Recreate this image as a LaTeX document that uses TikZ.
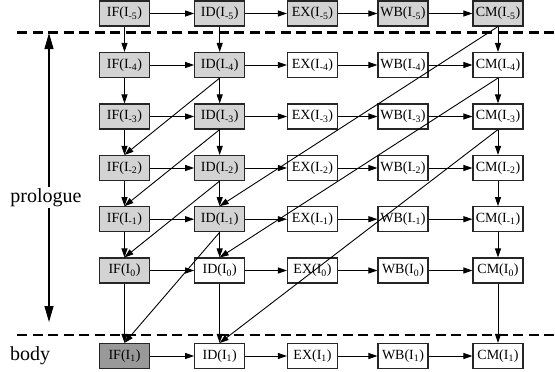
\documentclass[tikz,border=0pt]{standalone}
\usepackage{fontspec}
\setmainfont{Liberation Serif}
\usetikzlibrary{arrows.meta}
\definecolor{stagelight}{HTML}{D3D3D3}
\definecolor{stagedark}{HTML}{999999}
\tikzset{
  stagebox/.style={draw=black!85, line width=1.1pt, minimum width=50pt,
    minimum height=25pt, inner sep=0pt, font=\fontsize{14}{16}\selectfont},
  dep/.style={-{Triangle[length=9pt,width=6pt]}, line width=0.9pt},
  phaseline/.style={line width=2.4pt, dash pattern=on 10pt off 5.5pt},
  phasearrow/.style={{Triangle[length=16pt,width=9pt]}-{Triangle[length=16pt,width=9pt]}, line width=1.1pt},
  sidelabel/.style={font=\fontsize{20}{24}\selectfont, inner sep=1.5pt}
}
\begin{document}
\begin{tikzpicture}[x=1pt,y=-1pt]
\useasboundingbox (0,0) rectangle (555,372);

% pipeline stages, one row per instruction I_{-5} ... I_{1}
\foreach \i/\yy/\k in {0/13.5/-5,1/65/-4,2/116.5/-3,3/168/-2,4/219.2/-1,5/270.5/0,6/356/1} {
  % IF column
  \ifnum\i<6 \def\boxtone{stagelight}\else\def\boxtone{stagedark}\fi
  \node[stagebox, fill=\boxtone] (IF\i) at (124.5,\yy) {IF(I\textsubscript{\k})};
  % ID column
  \ifnum\i<5 \def\boxtone{stagelight}\else\def\boxtone{white}\fi
  \node[stagebox, fill=\boxtone] (ID\i) at (219.7,\yy) {ID(I\textsubscript{\k})};
  % EX, WB, CM columns
  \ifnum\i=0 \def\boxtone{stagelight}\else\def\boxtone{white}\fi
  \node[stagebox, fill=\boxtone] (EX\i) at (312.5,\yy) {EX(I\textsubscript{\k})};
  \node[stagebox, fill=\boxtone] (WB\i) at (403,\yy) {WB(I\textsubscript{\k})};
  \node[stagebox, fill=\boxtone] (CM\i) at (498,\yy) {CM(I\textsubscript{\k})};
  % flow through the stages
  \draw[dep] (IF\i) -- (ID\i);
  \draw[dep] (ID\i) -- (EX\i);
  \draw[dep] (EX\i) -- (WB\i);
  \draw[dep] (WB\i) -- (CM\i);
}

% dependences between consecutive instructions
\foreach \i [evaluate=\i as \j using int(\i+1)] in {0,...,5} {
  \draw[dep] (IF\i.south) -- (IF\j.north);
  \draw[dep] (ID\i.south) -- (ID\j.north);
  \draw[dep] (CM\i.south) -- (CM\j.north);
}

% ID -> IF two instructions later
\foreach \i/\j in {1/3,2/4,3/5,4/6}
  \draw[dep] (ID\i.south) -- (IF\j.north);

% CM -> ID four instructions later
\foreach \i/\j in {0/4,1/5,2/6}
  \draw[dep] (CM\i.south) -- (ID\j.north);

% phase separators
\coordinate (sepAl) at (17,32.3);
\coordinate (sepAr) at (555,32.3);
\coordinate (sepBl) at (17,335);
\coordinate (sepBr) at (555,335);
\draw[phaseline] (sepAl) -- (sepAr);
\draw[phaseline] (sepBl) -- (sepBr);

% prologue extent
\coordinate (protop) at (49,33);
\coordinate (probot) at (49,322);
\draw[phasearrow] (protop) -- (probot);
\node[sidelabel, fill=white] (prologue) at (46,197.5) {prologue};
\node[sidelabel] (body) at (30,356) {body};
\end{tikzpicture}
\end{document}
